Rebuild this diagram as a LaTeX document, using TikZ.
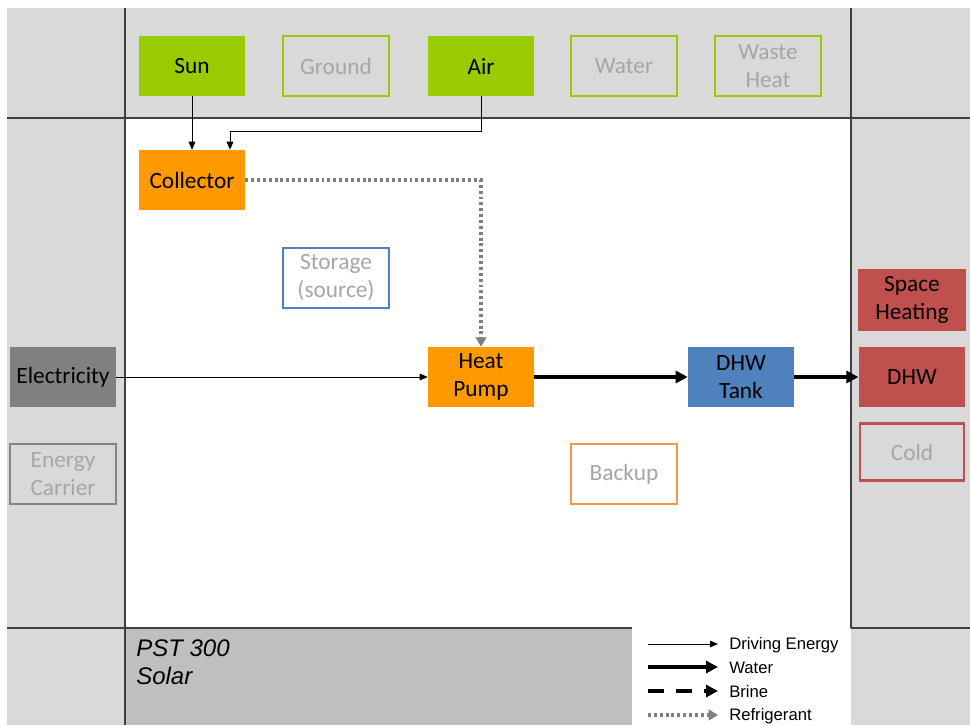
\documentclass[tikz,border=0pt]{standalone}
\usepackage{fontspec}
\setmainfont{Carlito}
\newfontfamily\legfont{Liberation Sans}
\usetikzlibrary{arrows.meta}
\definecolor{bglight}{HTML}{D9D9D9}
\definecolor{bgdark}{HTML}{BFBFBF}
\definecolor{cgreen}{HTML}{99CC00}
\definecolor{corange}{HTML}{FF9900}
\definecolor{cblue}{HTML}{4F81BD}
\definecolor{cred}{HTML}{C0504D}
\definecolor{cgray}{HTML}{808080}
\definecolor{ctext}{HTML}{A6A6A6}
\definecolor{cbackup}{HTML}{F79646}
\definecolor{cline}{HTML}{404040}
\tikzset{
  box/.style={minimum width=79.5pt, minimum height=45pt, inner sep=0pt, align=center,
    font=\fontsize{17.5}{21}\selectfont},
  filled/.style={box, fill=#1, text=black},
  ghost/.style={box, draw=#1, line width=2.2pt, text=ctext},
  drive/.style={draw=black, line width=0.75pt, -{Triangle[length=6pt,width=5pt]}},
  waterline/.style={draw=black, line width=3pt, -{Triangle[length=9pt,width=9pt]}},
  brineline/.style={draw=black, line width=3pt, dash pattern=on 12pt off 9pt, -{Triangle[length=9pt,width=9pt]}},
  refline/.style={draw=cgray, line width=2.4pt, dash pattern=on 2.2pt off 2.2pt, -{Triangle[length=7pt,width=8pt]}},
  sep/.style={draw=cline, line width=0.8pt},
  legtext/.style={anchor=west, inner sep=0pt, font=\legfont\fontsize{12.5}{15}\selectfont}
}
\begin{document}
\begin{tikzpicture}[x=0.75pt,y=-0.75pt]
\useasboundingbox (0,0) rectangle (970,725);
% backgrounds
\fill[bglight] (7,8) rectangle (970,725);
\fill[white] (125,118) rectangle (851,628);
\fill[bgdark] (125,628) rectangle (632,725);
\fill[white] (632,628) rectangle (851,725);
% separators
\draw[sep] (125,8) -- (125,725);
\draw[sep] (851,8) -- (851,628);
\draw[sep] (7,118) -- (970,118);
\draw[sep] (7,628) -- (632,628);
\draw[sep] (851,628) -- (970,628);
% sources
\node[filled=cgreen] (sun) at (192,66) {Sun};
\node[ghost=cgreen] (ground) at (336,66) {Ground};
\node[filled=cgreen] (air) at (481,66) {Air};
\node[ghost=cgreen] (water) at (624,66) {Water};
\node[ghost=cgreen] (waste) at (768,66) {Waste\\Heat};
% main
\node[filled=corange] (coll) at (192,180) {Collector};
\node[ghost=cblue] (stor) at (336,278) {Storage\\(source)};
\node[filled=cgray] (elec) at (63,377) {Electricity};
\node[ghost=ctext!80!black] (carrier) at (63,474) {Energy\\Carrier};
\node[filled=corange] (hp) at (481,377) {Heat\\Pump};
\node[filled=cblue] (tank) at (741,377) {DHW\\Tank};
\node[ghost=cbackup] (backup) at (624,474) {Backup};
% sinks
\node[filled=cred, minimum width=81pt, minimum height=46.5pt] (space) at (912,300) {Space\\Heating};
\node[filled=cred, minimum width=80pt] (dhw) at (912,377) {DHW};
\node[ghost=cred, minimum width=78pt, minimum height=43pt] (cold) at (912,452) {Cold};
% connectors
\coordinate (aircorner) at (230,131);
\draw[drive] (sun.south) -- (coll.north);
\draw[drive] (air.south) |- (aircorner) -- (aircorner |- coll.north);
\draw[refline] (coll.east) -| (hp.north);
\draw[drive] (elec.east) -- (hp.west);
\draw[waterline] (hp.east) -- (tank.west);
\draw[waterline] (tank.east) -- (dhw.west);
% bottom label
\node[anchor=north west, align=left, inner sep=0pt, font=\legfont\itshape\fontsize{18}{21}\selectfont] (title) at (136,639) {PST 300\\Solar};
% legend
\coordinate (l1a) at (648,644); \coordinate (l1b) at (718,644);
\coordinate (l2a) at (648,667); \coordinate (l2b) at (718,667);
\coordinate (l3a) at (648,691); \coordinate (l3b) at (718,691);
\coordinate (l4a) at (648,715); \coordinate (l4b) at (718,715);
\draw[drive] (l1a) -- (l1b);
\draw[waterline] (l2a) -- (l2b);
\draw[brineline] (l3a) -- (l3b);
\draw[refline] (l4a) -- (l4b);
\node[legtext] (t1) at (729,645) {Driving Energy};
\node[legtext] (t2) at (729,668) {Water};
\node[legtext] (t3) at (729,692) {Brine};
\node[legtext] (t4) at (729,716) {Refrigerant};
\end{tikzpicture}
\end{document}
